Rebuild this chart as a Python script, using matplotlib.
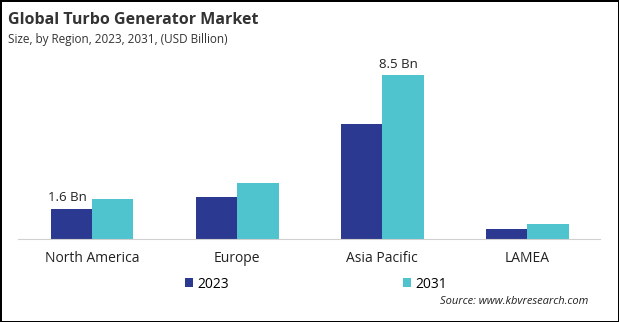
import matplotlib.pyplot as plt
import numpy as np

regions = ['North America', 'Europe', 'Asia Pacific', 'LAMEA']
v2023 = [1.56, 2.19, 6.0, 0.52]
v2031 = [2.08, 2.92, 8.5, 0.78]
labels = {('2023', 0): '1.6 Bn', ('2031', 2): '8.5 Bn'}

c2023 = '#2b3990'
c2031 = '#4fc4cf'

plt.rcParams['font.family'] = ['Open Sans', 'DejaVu Sans']

fig = plt.figure(figsize=(6.19, 3.22), dpi=100)
fig.patch.set_edgecolor('black')
fig.patch.set_linewidth(2)

ax = fig.add_axes([18/619, 1 - 239/322, (600-18)/619, (239-60)/322])
x = np.arange(len(regions))
w = 0.285
b1 = ax.bar(x - w/2, v2023, w, color=c2023, label='2023')
b2 = ax.bar(x + w/2, v2031, w, color=c2031, label='2031')

for (yr, i), txt in labels.items():
    bars = b1 if yr == '2023' else b2
    r = bars[i]
    ax.text(r.get_x() + r.get_width()/2 - 0.03, r.get_height() + 0.25, txt,
            ha='center', va='bottom', fontsize=9.5, color='#222222')

ax.set_xlim(-0.51, 3.5)
ax.set_ylim(0, 9.3)
ax.set_xticks(x)
ax.set_xticklabels(regions, fontsize=10, color='#222222')
ax.tick_params(axis='x', length=0, pad=9)
ax.set_yticks([])
for s in ['top', 'right', 'left']:
    ax.spines[s].set_visible(False)
ax.spines['bottom'].set_color('#d0d0d0')

fig.text(8/619, 1 - 20/322, 'Global Turbo Generator Market', fontsize=11.5,
         fontweight='bold', color='#333333', va='center')
fig.text(8/619, 1 - 39/322, 'Size, by Region, 2023, 2031, (USD Billion)',
         fontsize=8.5, color='#333333', va='center')

fig.legend(handles=[b1, b2], labels=['2023', '2031'], loc='center',
           bbox_to_anchor=(316/619, 1 - 284/322), ncol=2, frameon=False,
           fontsize=10, handlelength=0.6, handleheight=0.6, handletextpad=0.3,
           columnspacing=12.5)

fig.text(588/619, 1 - 302/322, 'Source: www.kbvresearch.com', fontsize=8,
         style='italic', color='#222222', ha='right', va='center')

fig.savefig('out.png', dpi=100)
